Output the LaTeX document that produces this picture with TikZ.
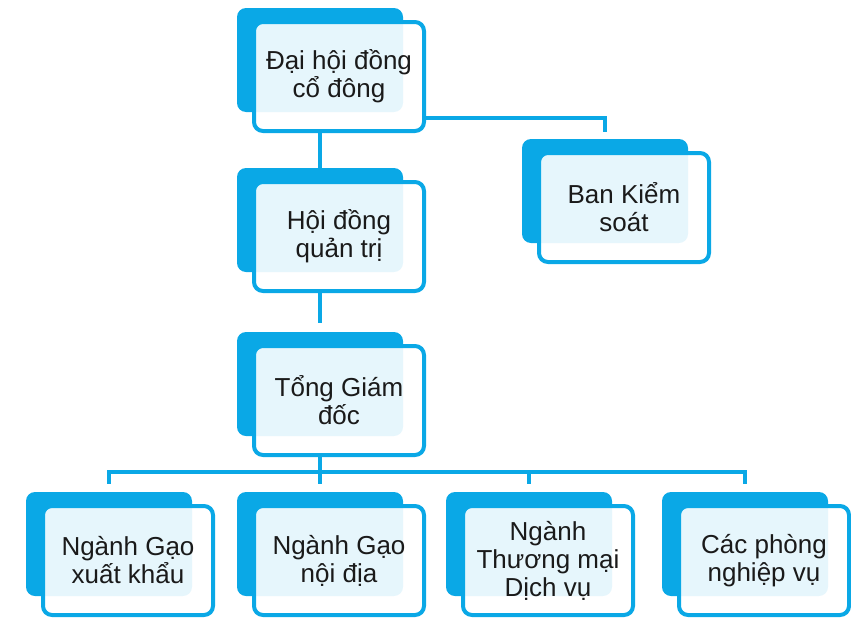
\documentclass[tikz,border=0pt]{standalone}
\usepackage{fontspec}
\setmainfont{Liberation Sans}
\usetikzlibrary{backgrounds}
\definecolor{orgblue}{HTML}{0AA8E6}
\definecolor{orgtext}{HTML}{1A1A1A}

\begin{document}
\begin{tikzpicture}[
    x=1pt, y=-1pt,
    % Blue card lying behind each box
    back/.style={
        fill=orgblue, rounded corners=9pt, inner sep=0pt,
        minimum width=166pt, minimum height=104pt
    },
    % Framed card on top, shifted down and right
    front/.style={
        draw=orgblue, line width=4pt, fill=white, fill opacity=0.9, text opacity=1,
        rounded corners=9pt, inner sep=0pt, align=center, text=orgtext,
        minimum width=170pt, minimum height=109pt,
        font=\fontsize{26}{28}\selectfont
    },
    link/.style={draw=orgblue, line width=4pt}
]

\useasboundingbox (0,0) rectangle (851,624);

% --- Top: general meeting and supervisory board ---
\node[back] (bdh) at (320,60) {};
\node[front] (fdh) at ([shift={(19,16.5)}]bdh.center) {Đại hội đồng\\cổ đông};

\node[back] (bbks) at (605,191) {};
\node[front] (fbks) at ([shift={(19,16.5)}]bbks.center) {Ban Kiểm\\soát};

% --- Middle: board and director ---
\node[back] (bhd) at (320,220) {};
\node[front] (fhd) at ([shift={(19,16.5)}]bhd.center) {Hội đồng\\quản trị};

\node[back] (btgd) at (320,384) {};
\node[front] (ftgd) at ([shift={(19,16.5)}]btgd.center) {Tổng Giám\\đốc};

% --- Bottom row: divisions ---
\node[back] (bgx) at (109,544) {};
\node[front] (fgx) at ([shift={(19,16.5)}]bgx.center) {Ngành Gạo\\xuất khẩu};

\node[back] (bgn) at (320,544) {};
\node[front] (fgn) at ([shift={(19,16.5)}]bgn.center) {Ngành Gạo\\nội địa};

\node[back] (btm) at (529,544) {};
\node[front] (ftm) at ([shift={(19,16.5)}]btm.center) {Ngành\\Thương mại\\Dịch vụ};

\node[back] (bpv) at (745,544) {};
\node[front] (fpv) at ([shift={(19,16.5)}]bpv.center) {Các phòng\\nghiệp vụ};

\coordinate (rail) at (320,472);

% --- Connectors, kept under the cards ---
\begin{scope}[on background layer]
    \draw[link] (bdh |- fdh.south) -- (bhd.north);
    \draw[link] ([yshift=15pt]fdh.south east) -| ([yshift=7pt]bbks.north);
    \draw[link] (bhd |- fhd.south) -- ([yshift=9pt]btgd.north);
    \draw[link] (btgd |- ftgd.south) -- (rail);
    \draw[link] (rail) -| ([yshift=8pt]bgx.north);
    \draw[link] (rail) -- ([yshift=8pt]bgn.north);
    \draw[link] (rail) -| ([yshift=8pt]btm.north);
    \draw[link] (rail) -| ([yshift=8pt]bpv.north);
\end{scope}

\end{tikzpicture}
\end{document}
